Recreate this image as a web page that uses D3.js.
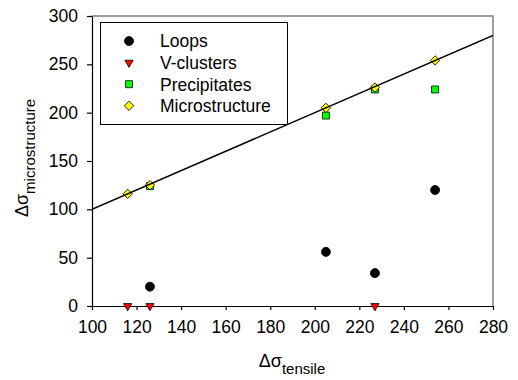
<!DOCTYPE html>
<html><head><meta charset="utf-8">
<script src="https://cdn.jsdelivr.net/npm/d3@7/dist/d3.min.js"></script>
<style>body{margin:0;background:#fff;} svg{display:block;} text{font-family:"Liberation Sans",Arial,sans-serif;}</style>
</head><body><svg id="c" width="518" height="380"></svg>
<script>
const xTicks = [100,120,140,160,180,200,220,240,260,280];
const yTicks = [0,50,100,150,200,250,300];
const loopsX = [126,205,227,254];
const loopsY = [20,56,34,120];
const vclX = [116,126,227];
const vclY = [0,0,0];
const precX = [126,205,227,254];
const precY = [124,197,224,224];
const microX = [116,126,205,227,254];
const microY = [116,125,205,226,254];
const fitLine = [[100,100],[280,280]];
const legendNames = ["Loops","V-clusters","Precipitates","Microstructure"];

const svg = d3.select("#c");
const L=92,R=493,T=16,B=306;
const x = d3.scaleLinear().domain([100,280]).range([L,R]);
const y = d3.scaleLinear().domain([0,300]).range([B,T]);

svg.append("defs").append("clipPath").attr("id","pc").append("rect")
  .attr("x",L).attr("y",T).attr("width",R-L).attr("height",B-T);

svg.append("path").attr("d",`M${L},${T}H${R}V${B}`).attr("fill","none").attr("stroke","#808080").attr("stroke-width",1.5);

const xa = svg.append("g").attr("transform",`translate(0,${B})`)
  .call(d3.axisBottom(x).tickValues(xTicks).tickSize(4).tickPadding(11).tickSizeOuter(0));
const ya = svg.append("g").attr("transform",`translate(${L},0)`)
  .call(d3.axisLeft(y).tickValues(yTicks).tickSize(5).tickPadding(9).tickSizeOuter(0));
[xa,ya].forEach(a=>{
  a.selectAll("text").attr("font-size","17.5px").attr("fill","#000").attr("font-family","Liberation Sans, Arial, sans-serif");
  a.selectAll("line,path").attr("stroke","#000").attr("stroke-width",1.2);
});

const g = svg.append("g");
const sym = {
  circle: d3.symbol().type(d3.symbolCircle).size(64),
  tri: d3.symbol().type(d3.symbolTriangle).size(30),
  sq: d3.symbol().type(d3.symbolSquare).size(49),
  dia: d3.symbol().type(d3.symbolSquare).size(44)
};
function pts(xs,ys,s,fill,rot){
  g.selectAll(null).data(xs.map((v,i)=>[v,ys[i]])).enter().append("path")
    .attr("d",s).attr("fill",fill).attr("stroke","#000").attr("stroke-width",0.8)
    .attr("transform",d=>`translate(${x(d[0])},${y(d[1])})${rot?` rotate(${rot})`:""}`);
}
pts(loopsX,loopsY,sym.circle,"#000");
pts(vclX,vclY,sym.tri,"#ff0000",180);
pts(precX,precY,sym.sq,"#00ff00");
pts(microX,microY,sym.dia,"#ffff00",45);

svg.append("path").datum(fitLine).attr("clip-path","url(#pc)")
  .attr("d",d3.line().x(d=>x(d[0])).y(d=>y(d[1])))
  .attr("fill","none").attr("stroke","#000").attr("stroke-width",1.5);

const lg = svg.append("g");
lg.append("rect").attr("x",100.5).attr("y",22.5).attr("width",187).attr("height",102)
  .attr("fill","#fff").attr("stroke","#000").attr("stroke-width",1);
const lsym=[[sym.circle,"#000",0],[sym.tri,"#ff0000",180],[sym.sq,"#00ff00",0],[sym.dia,"#ffff00",45]];
legendNames.forEach((n,i)=>{
  const yy = 41 + i*21.6;
  lg.append("path").attr("d",lsym[i][0]).attr("fill",lsym[i][1]).attr("stroke","#000").attr("stroke-width",0.8)
    .attr("transform",`translate(129,${yy})${lsym[i][2]?` rotate(${lsym[i][2]})`:""}`);
  lg.append("text").attr("x",160).attr("y",yy+6.3).attr("font-size","17.5px").text(n);
});

const xt = svg.append("text").attr("x",292).attr("y",367).attr("text-anchor","middle");
xt.append("tspan").attr("font-size","18px").text("Δσ");
xt.append("tspan").attr("font-size","15px").attr("dy",7).text("tensile");
const yt = svg.append("text").attr("transform","translate(28,158) rotate(-90)").attr("text-anchor","middle");
yt.append("tspan").attr("font-size","18px").text("Δσ");
yt.append("tspan").attr("font-size","15px").attr("dy",7).text("microstructure");
</script></body></html>
